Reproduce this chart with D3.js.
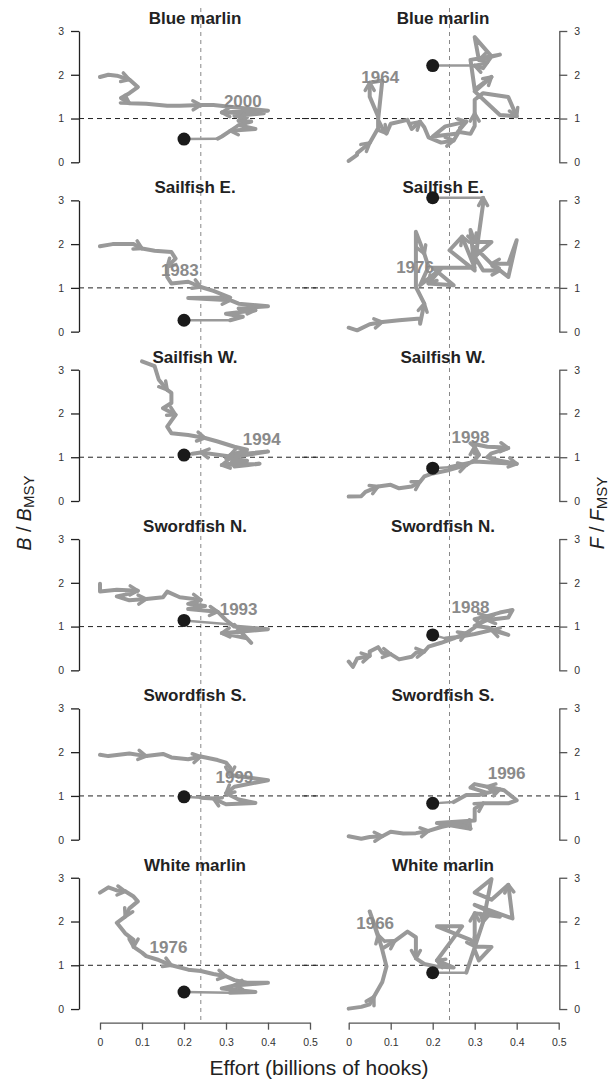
<!DOCTYPE html>
<html>
<head>
<meta charset="utf-8">
<script src="https://cdn.jsdelivr.net/npm/d3@7/dist/d3.min.js"></script>
<style>
  body { margin: 0; background: #fff; }
  svg text { font-family: "Liberation Sans", Arial, sans-serif; }
</style>
</head>
<body>
<div id="chart"></div>
<script>
// Stocks, one row each
const species = ["Blue marlin", "Sailfish E.", "Sailfish W.", "Swordfish N.", "Swordfish S.", "White marlin"];

const effortTicks = [0, 0.1, 0.2, 0.3, 0.4, 0.5];
const ratioTicks = [0, 1, 2, 3];
const refEffort = 0.24;   // vertical reference line
const refRatio = 1;       // B = BMSY, F = FMSY

// B/BMSY trajectories, [effort, ratio]
const blueMarlinB = [[0,1.95],[0.02,2.0],[0.04,1.98],[0.07,1.89],[0.09,1.72],[0.07,1.58],[0.05,1.47],[0.07,1.35],[0.11,1.34],[0.16,1.29],[0.19,1.29],[0.24,1.31],[0.27,1.31],[0.32,1.26],[0.4,1.18],[0.29,1.14],[0.39,1.12],[0.32,1.06],[0.35,1.03],[0.33,0.95],[0.36,0.93],[0.33,0.85],[0.37,0.76],[0.31,0.72],[0.29,0.59],[0.28,0.54]];
const sailfishEB = [[0,1.95],[0.03,2.0],[0.08,2.0],[0.1,1.9],[0.13,1.85],[0.17,1.82],[0.18,1.67],[0.16,1.48],[0.16,1.25],[0.17,1.1],[0.21,1.14],[0.24,1.02],[0.27,0.93],[0.31,0.78],[0.21,0.77],[0.31,0.72],[0.33,0.64],[0.4,0.58],[0.33,0.53],[0.37,0.49],[0.3,0.41],[0.34,0.34],[0.31,0.26]];
const sailfishWB = [[0.1,3.19],[0.13,3.08],[0.14,2.77],[0.16,2.54],[0.17,2.47],[0.17,2.24],[0.15,2.12],[0.18,1.97],[0.16,1.7],[0.17,1.55],[0.21,1.51],[0.25,1.44],[0.28,1.36],[0.32,1.24],[0.35,1.17],[0.31,1.05],[0.4,1.13],[0.3,0.98],[0.35,0.92],[0.29,0.82],[0.38,0.85],[0.32,0.79],[0.31,1.02],[0.24,1.11],[0.22,1.08]];
const swordfishNB = [[0,1.98],[0,1.8],[0.04,1.84],[0.09,1.82],[0.06,1.73],[0.04,1.69],[0.07,1.6],[0.11,1.63],[0.15,1.67],[0.16,1.8],[0.19,1.67],[0.24,1.61],[0.21,1.52],[0.25,1.47],[0.21,1.4],[0.28,1.34],[0.3,1.15],[0.32,1.0],[0.4,0.94],[0.29,0.85],[0.35,0.73],[0.36,0.63],[0.32,1.04]];
const swordfishSB = [[0,1.94],[0.02,1.91],[0.07,1.97],[0.11,1.91],[0.15,1.96],[0.17,1.88],[0.21,1.84],[0.24,1.9],[0.28,1.82],[0.3,1.76],[0.31,1.65],[0.31,1.48],[0.37,1.4],[0.4,1.36],[0.32,1.21],[0.3,1.06],[0.33,0.92],[0.37,0.84],[0.3,0.81],[0.27,0.94],[0.24,0.96]];
const whiteMarlinB = [[0,2.66],[0.02,2.78],[0.04,2.71],[0.06,2.69],[0.08,2.57],[0.09,2.46],[0.07,2.3],[0.06,2.11],[0.04,1.97],[0.06,1.73],[0.08,1.58],[0.08,1.42],[0.1,1.29],[0.11,1.21],[0.14,1.12],[0.17,1.0],[0.21,0.9],[0.24,0.87],[0.27,0.8],[0.3,0.75],[0.32,0.66],[0.35,0.6],[0.4,0.6],[0.32,0.54],[0.29,0.47],[0.37,0.39],[0.31,0.37]];

// F/FMSY trajectories, [effort, ratio]
const blueMarlinF = [[0,0.03],[0.02,0.17],[0.02,0.21],[0.05,0.44],[0.07,0.78],[0.07,1.05],[0.05,1.5],[0.05,1.82],[0.08,1.87],[0.07,0.97],[0.08,0.78],[0.09,0.66],[0.1,0.88],[0.14,0.97],[0.15,0.76],[0.17,0.93],[0.18,0.8],[0.19,0.57],[0.22,0.45],[0.25,0.5],[0.26,0.66],[0.2,0.59],[0.23,0.82],[0.28,0.93],[0.26,0.7],[0.29,0.65],[0.3,0.83],[0.3,1.12],[0.3,1.43],[0.32,1.58],[0.38,1.49],[0.4,1.05],[0.36,1.08],[0.33,1.35],[0.3,1.62],[0.34,1.95],[0.3,1.66],[0.29,2.34],[0.36,2.46],[0.31,2.34],[0.3,2.86],[0.34,2.42],[0.32,2.15],[0.3,2.21]];
const sailfishEF = [[0,0.09],[0.02,0.03],[0.05,0.17],[0.08,0.22],[0.12,0.26],[0.17,0.3],[0.17,0.18],[0.18,0.64],[0.16,1.02],[0.16,1.4],[0.16,2.28],[0.18,1.78],[0.19,1.48],[0.17,1.06],[0.22,1.44],[0.19,1.1],[0.25,1.06],[0.2,1.46],[0.3,1.46],[0.27,2.17],[0.24,1.86],[0.3,1.4],[0.29,2.32],[0.3,2.05],[0.34,2.05],[0.3,1.71],[0.32,1.4],[0.36,1.4],[0.38,1.25],[0.4,2.09],[0.38,1.55],[0.34,1.55],[0.3,1.93],[0.3,1.55],[0.32,2.92],[0.32,3.06]];
const sailfishWF = [[0,0.1],[0.03,0.11],[0.04,0.21],[0.07,0.33],[0.1,0.37],[0.12,0.29],[0.15,0.33],[0.17,0.44],[0.18,0.56],[0.2,0.63],[0.24,0.71],[0.28,0.82],[0.3,0.94],[0.31,1.05],[0.3,1.09],[0.3,1.24],[0.29,1.32],[0.33,1.24],[0.36,1.23],[0.38,1.21],[0.34,1.09],[0.33,1.0],[0.36,0.92],[0.4,0.85],[0.3,0.9],[0.24,0.77]];
const swordfishNF = [[0,0.2],[0.01,0.08],[0.02,0.27],[0.05,0.33],[0.05,0.43],[0.07,0.53],[0.08,0.4],[0.1,0.37],[0.12,0.25],[0.15,0.31],[0.16,0.4],[0.18,0.43],[0.19,0.54],[0.22,0.63],[0.25,0.73],[0.28,0.85],[0.3,0.98],[0.31,1.09],[0.3,1.17],[0.33,1.24],[0.36,1.32],[0.39,1.38],[0.38,1.21],[0.33,1.15],[0.3,1.02],[0.33,0.98],[0.38,0.81],[0.34,0.92],[0.3,0.83],[0.26,0.76],[0.23,0.73]];
const swordfishSF = [[0,0.08],[0.03,0.02],[0.05,0.06],[0.08,0.08],[0.1,0.18],[0.13,0.14],[0.16,0.15],[0.19,0.2],[0.22,0.29],[0.25,0.35],[0.28,0.38],[0.29,0.25],[0.21,0.38],[0.3,0.44],[0.3,0.71],[0.32,0.83],[0.38,0.83],[0.4,0.9],[0.37,1.13],[0.33,1.21],[0.3,1.27],[0.29,1.19],[0.33,1.07],[0.36,1.15],[0.31,1.02],[0.28,1.02],[0.25,0.86]];
const whiteMarlinF = [[0,0.01],[0.03,0.05],[0.05,0.11],[0.06,0.28],[0.08,0.62],[0.09,0.97],[0.08,1.35],[0.07,1.69],[0.05,2.23],[0.07,1.65],[0.08,1.38],[0.11,1.56],[0.14,1.77],[0.16,1.64],[0.16,1.44],[0.16,1.16],[0.18,1.03],[0.21,0.97],[0.25,0.95],[0.21,1.11],[0.27,1.89],[0.21,1.89],[0.29,1.58],[0.3,1.43],[0.34,1.42],[0.31,1.11],[0.3,1.35],[0.3,2.19],[0.36,2.11],[0.3,2.38],[0.39,2.07],[0.38,2.84],[0.34,2.5],[0.3,2.66],[0.34,2.97],[0.32,1.99],[0.29,1.12],[0.28,0.83]];

const bSeries = [blueMarlinB, sailfishEB, sailfishWB, swordfishNB, swordfishSB, whiteMarlinB];
const fSeries = [blueMarlinF, sailfishEF, sailfishWF, swordfishNF, swordfishSF, whiteMarlinF];

// Projected points (black dots)
const bDots = [[0.2,0.53],[0.2,0.26],[0.2,1.05],[0.2,1.14],[0.2,0.98],[0.2,0.39]];
const fDots = [[0.2,2.21],[0.2,3.06],[0.2,0.75],[0.2,0.81],[0.2,0.83],[0.2,0.83]];

// Year labels and where they sit
const bYears = ["2000", "1983", "1994", "1993", "1999", "1976"];
const bYearPos = [[0.34,1.4],[0.19,1.42],[0.385,1.41],[0.33,1.4],[0.32,1.44],[0.163,1.41]];
const fYears = ["1964", "1976", "1998", "1988", "1996", "1966"];
const fYearPos = [[0.075,1.95],[0.158,1.48],[0.29,1.46],[0.29,1.46],[0.376,1.53],[0.063,1.96]];

const W = 614, H = 1081;
const rowStep = 169.35;
const lineGrey = "#999999";

const svg = d3.select("#chart").append("svg")
    .attr("width", W)
    .attr("height", H);

const xLeft = d3.scaleLinear().domain([0, 0.5]).range([100, 310]);
const xRight = d3.scaleLinear().domain([0, 0.5]).range([348.7, 558.7]);
const yRow = i => d3.scaleLinear().domain([0, 3]).range([162.3 + rowStep * i, 31 + rowStep * i]);

// Vertical reference lines run through all rows
[xLeft, xRight].forEach(x => {
    svg.append("line")
        .attr("x1", x(refEffort)).attr("x2", x(refEffort))
        .attr("y1", 8).attr("y2", 1022)
        .attr("stroke", "#888")
        .attr("stroke-width", 1)
        .attr("stroke-dasharray", "4,4");
});

function arrowHead(g, p0, p1) {
    const ang = Math.atan2(p1[1] - p0[1], p1[0] - p0[0]);
    const len = 9, spread = Math.PI / 6;
    [ang + Math.PI - spread, ang + Math.PI + spread].forEach(a => {
        g.append("line")
            .attr("x1", p1[0]).attr("y1", p1[1])
            .attr("x2", p1[0] + len * Math.cos(a))
            .attr("y2", p1[1] + len * Math.sin(a))
            .attr("stroke", lineGrey)
            .attr("stroke-width", 3.5)
            .attr("stroke-linecap", "round");
    });
}

function drawPanel(i, side) {
    const x = side === "B" ? xLeft : xRight;
    const y = yRow(i);
    const data = side === "B" ? bSeries[i] : fSeries[i];
    const dot = side === "B" ? bDots[i] : fDots[i];
    const year = side === "B" ? bYears[i] : fYears[i];
    const yearPos = side === "B" ? bYearPos[i] : fYearPos[i];
    const g = svg.append("g");

    // Title
    g.append("text")
        .attr("x", side === "B" ? 195 : 443)
        .attr("y", 24 + rowStep * i)
        .attr("text-anchor", "middle")
        .attr("font-size", 17)
        .attr("font-weight", "bold")
        .attr("fill", "#222")
        .text(species[i]);

    // Horizontal reference line at 1
    g.append("line")
        .attr("x1", side === "B" ? 79 : 302)
        .attr("x2", side === "B" ? 318 : 559)
        .attr("y1", y(refRatio)).attr("y2", y(refRatio))
        .attr("stroke", "#222")
        .attr("stroke-width", 1)
        .attr("stroke-dasharray", "5,4");

    // Y axis
    const axis = side === "B" ? d3.axisLeft(y) : d3.axisRight(y);
    const ax = g.append("g")
        .attr("transform", `translate(${side === "B" ? 79 : 559.3},0)`)
        .call(axis.tickValues(ratioTicks).tickFormat(d3.format("d"))
            .tickSize(8).tickSizeOuter(0).tickPadding(7));
    ax.selectAll("path, line").attr("stroke", side === "B" ? "#222" : "#555").attr("stroke-width", 1.3);
    ax.selectAll("text").attr("font-size", 10.5).attr("fill", "#333")
        .style("font-family", "'Liberation Sans', Arial, sans-serif");

    // Trajectory
    const pts = data.map(d => [x(d[0]), y(d[1])]);
    g.append("path")
        .attr("d", d3.line()(pts))
        .attr("fill", "none")
        .attr("stroke", lineGrey)
        .attr("stroke-width", 4)
        .attr("stroke-linejoin", "round")
        .attr("stroke-linecap", "round");
    for (let k = 3; k < pts.length; k += 4) arrowHead(g, pts[k - 1], pts[k]);

    // Projection to the dot
    const last = pts[pts.length - 1];
    g.append("line")
        .attr("x1", last[0]).attr("y1", last[1])
        .attr("x2", x(dot[0])).attr("y2", y(dot[1]))
        .attr("stroke", lineGrey)
        .attr("stroke-width", 2.5);
    g.append("circle")
        .attr("cx", x(dot[0])).attr("cy", y(dot[1]))
        .attr("r", 6.5)
        .attr("fill", "#1a1a1a");

    // Year label
    g.append("text")
        .attr("x", x(yearPos[0]))
        .attr("y", y(yearPos[1]))
        .attr("dy", "0.36em")
        .attr("text-anchor", "middle")
        .attr("font-size", 17)
        .attr("font-weight", "bold")
        .attr("fill", "#8a8a8a")
        .text(year);
}

species.forEach((s, i) => {
    drawPanel(i, "B");
    drawPanel(i, "F");
});

// Bottom effort axes
[xLeft, xRight].forEach(x => {
    const ax = svg.append("g")
        .attr("transform", "translate(0,1022.7)")
        .call(d3.axisBottom(x).tickValues(effortTicks).tickSize(7).tickSizeOuter(0).tickPadding(9)
            .tickFormat(d => d === 0 ? "0" : d3.format(".1f")(d)));
    ax.selectAll("path, line").attr("stroke", "#555").attr("stroke-width", 1.3);
    ax.selectAll("text").attr("font-size", 10.5).attr("fill", "#333")
        .style("font-family", "'Liberation Sans', Arial, sans-serif");
});

svg.append("text")
    .attr("x", 319)
    .attr("y", 1075)
    .attr("text-anchor", "middle")
    .attr("font-size", 21)
    .attr("fill", "#222")
    .text("Effort (billions of hooks)");

// Rotated axis titles
function ratioLabel(cx, letter) {
    const t = svg.append("text")
        .attr("transform", `translate(${cx},513) rotate(-90)`)
        .attr("text-anchor", "middle")
        .attr("font-size", 19.5)
        .attr("fill", "#222");
    t.append("tspan").attr("font-style", "italic").text(letter);
    t.append("tspan").text(" / ");
    t.append("tspan").attr("font-style", "italic").text(letter);
    t.append("tspan").attr("font-size", 15).attr("dy", 3).text("MSY");
}
ratioLabel(31, "B");
ratioLabel(604, "F");
</script>
</body>
</html>
